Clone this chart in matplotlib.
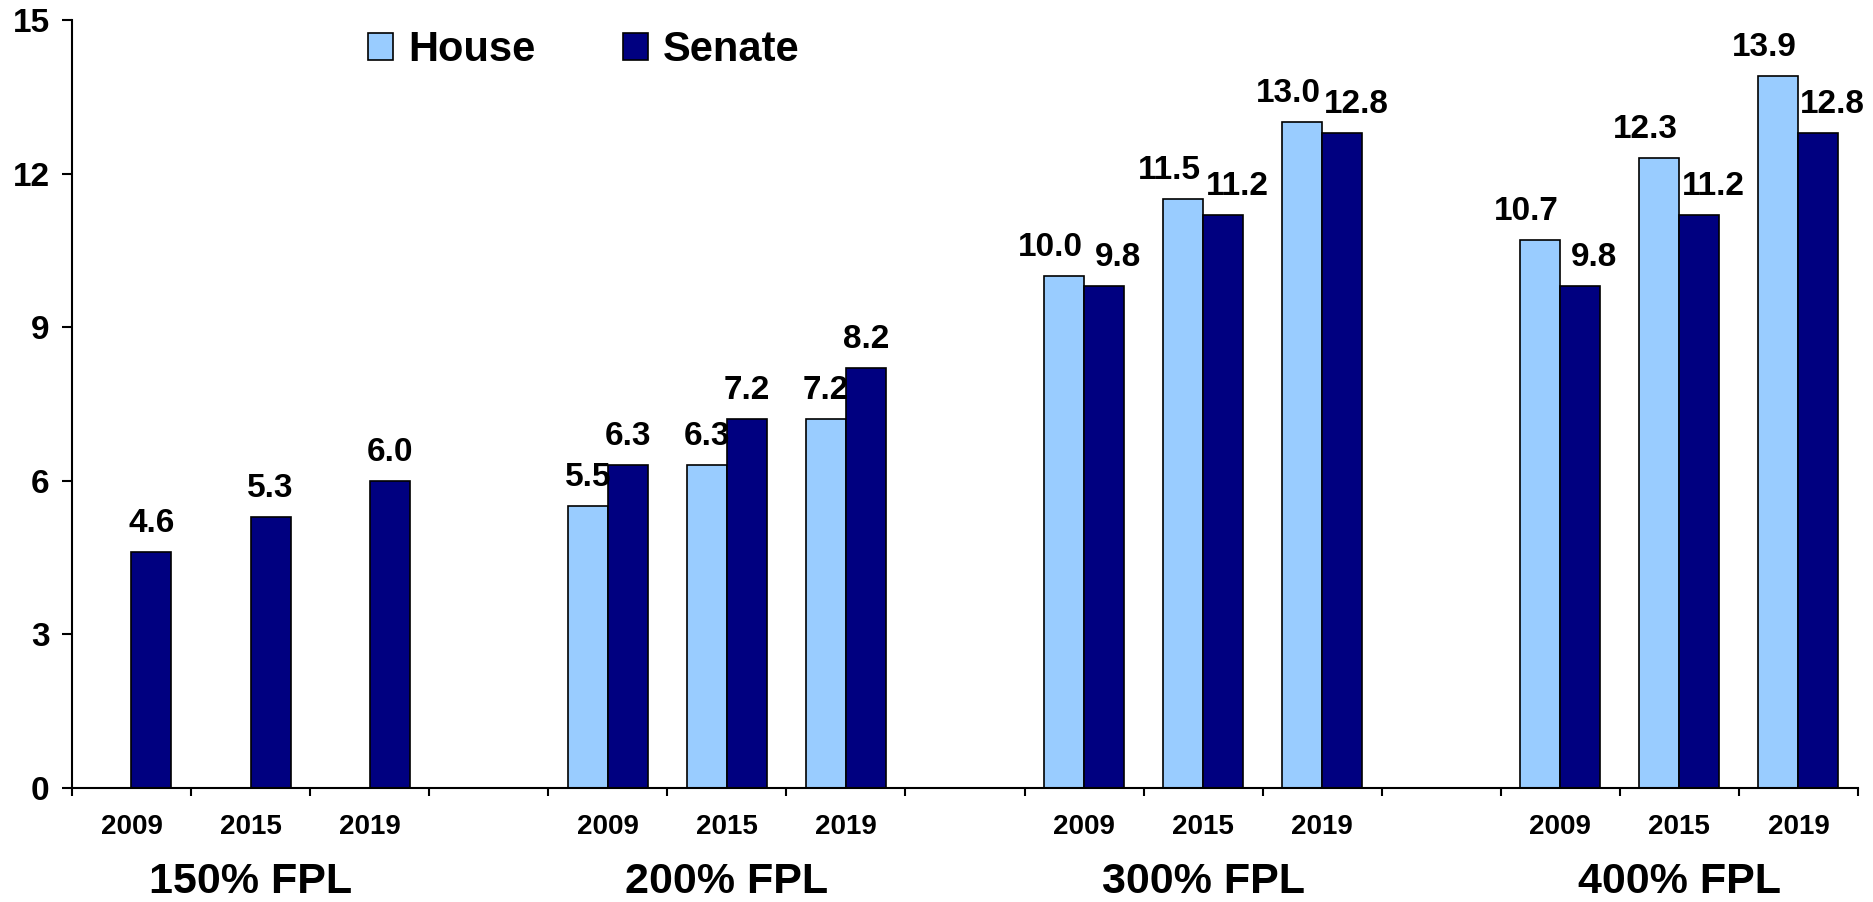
import numpy as np
import matplotlib
matplotlib.use('Agg')
import matplotlib.pyplot as plt
import matplotlib.transforms as mtransforms

plt.rcParams['font.family'] = ['Liberation Sans', 'DejaVu Sans']
plt.rcParams['font.weight'] = 'bold'

# Data: subsidy levels by income bracket, year and bill
groups = ['150% FPL', '200% FPL', '300% FPL', '400% FPL']
years = ['2009', '2015', '2019']
house = [
    [np.nan, np.nan, np.nan],
    [5.5, 6.3, 7.2],
    [10.0, 11.5, 13.0],
    [10.7, 12.3, 13.9],
]
senate = [
    [4.6, 5.3, 6.0],
    [6.3, 7.2, 8.2],
    [9.8, 11.2, 12.8],
    [9.8, 11.2, 12.8],
]
yticks = [0, 3, 6, 9, 12, 15]

house_color = '#99CCFF'
senate_color = '#000080'

fig = plt.figure(figsize=(18.73, 9.02), dpi=100)
ax = fig.add_axes([0.0384, 0.1264, 0.9536, 0.8514])

# each group takes 3 year slots plus one empty spacer slot
n_slots = len(groups) * 4 - 1
width = 0.336
house_x, house_v, senate_x, senate_v = [], [], [], []
year_x, year_lab = [], []
for g in range(len(groups)):
    for k in range(len(years)):
        pos = g * 4 + k
        year_x.append(pos)
        year_lab.append(years[k])
        house_x.append(pos)
        house_v.append(house[g][k])
        senate_x.append(pos)
        senate_v.append(senate[g][k])

house_x = np.array(house_x)
senate_x = np.array(senate_x)
hb = ax.bar(house_x - width / 2, house_v, width, color=house_color,
            edgecolor='black', linewidth=1.2, label='House')
sb = ax.bar(senate_x + width / 2, senate_v, width, color=senate_color,
            edgecolor='black', linewidth=1.2, label='Senate')

# value labels; push pairs apart when the house label is wide
for x, h, s in zip(house_x, house_v, senate_v):
    shift = 14 if (not np.isnan(h) and h >= 10) else 0
    if not np.isnan(h):
        ax.annotate(f'{h:.1f}', (x - width / 2, h), xytext=(-shift * 0.72, 14.4),
                    textcoords='offset points', ha='center', va='baseline',
                    fontsize=24, fontweight='bold')
    if not np.isnan(s):
        ax.annotate(f'{s:.1f}', (x + width / 2, s), xytext=(shift * 0.72, 14.4),
                    textcoords='offset points', ha='center', va='baseline',
                    fontsize=24, fontweight='bold')

ax.set_xlim(-0.5, n_slots - 0.5)
ax.set_ylim(0, 15)
ax.set_yticks(yticks)
ax.set_yticklabels([str(t) for t in yticks], fontsize=24, fontweight='bold')
ax.set_xticks(np.arange(-0.5, n_slots, 1.0))
ax.set_xticklabels([])
ax.tick_params(axis='y', length=7, width=1.5, pad=9)
ax.tick_params(axis='x', length=5.5, width=1.5, direction='out')

for side in ['top', 'right']:
    ax.spines[side].set_visible(False)
for side in ['left', 'bottom']:
    ax.spines[side].set_linewidth(1.5)

# year and bracket labels below the axis
trans = mtransforms.blended_transform_factory(ax.transData, fig.transFigure)
for x, lab in zip(year_x, year_lab):
    ax.text(x, 1 - 834 / 902, lab, transform=trans, ha='center', va='baseline',
            fontsize=20, fontweight='bold')
for g, name in enumerate(groups):
    ax.text(g * 4 + 1, 1 - 893 / 902, name, transform=trans, ha='center',
            va='baseline', fontsize=31, fontweight='bold')

ax.legend(handles=[hb, sb], ncol=2, frameon=False,
          loc='center left', bbox_to_anchor=(368 / 1873, 1 - 50 / 902),
          bbox_transform=fig.transFigure, borderpad=0, borderaxespad=0,
          handlelength=0.6, handleheight=0.6, handletextpad=0.36,
          columnspacing=2.1, prop={'size': 30, 'weight': 'bold'})

fig.savefig('out.png', dpi=100)
